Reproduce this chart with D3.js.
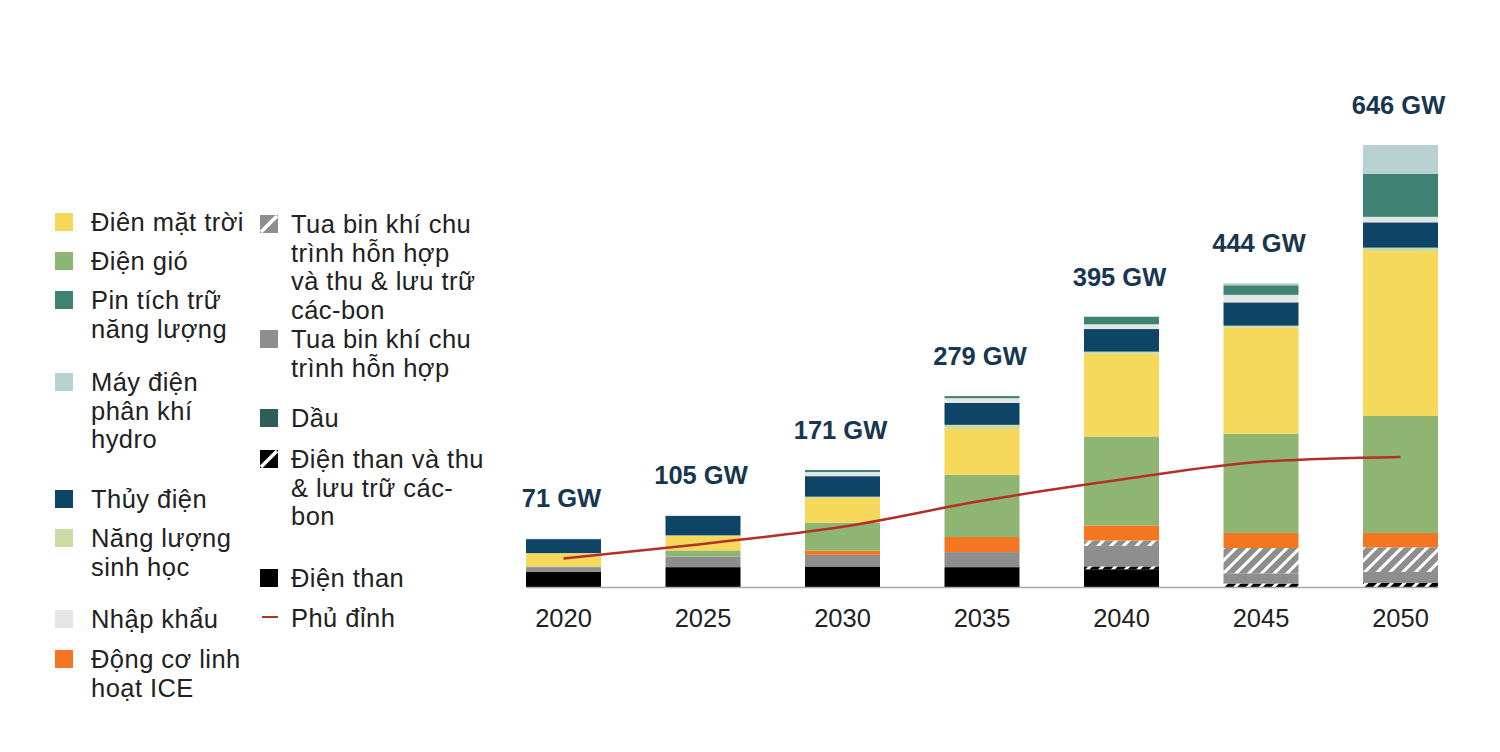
<!DOCTYPE html>
<html>
<head>
<meta charset="utf-8">
<script src="https://cdn.jsdelivr.net/npm/d3@7"></script>
<style>
  html, body { margin: 0; padding: 0; background: #fff; }
  svg { display: block; }
  text { font-family: "Liberation Sans", Arial, Helvetica, sans-serif; }
</style>
</head>
<body>
<svg id="chart" width="1500" height="752"></svg>
<script>
// ---------- DATA ----------
const years = ["2020", "2025", "2030", "2035", "2040", "2045", "2050"];
const totalLabels = ["71 GW", "105 GW", "171 GW", "279 GW", "395 GW", "444 GW", "646 GW"];

// stack series, bottom to top (GW)
const coal      = [22, 29, 30, 29, 26,   0,   0];
const coalCCS   = [ 0,  0,  0,  0,  4,   5,   6];
const gas       = [ 7, 15.5, 17, 22, 30, 15,  16];
const gasCCS    = [ 0,  0,  0,  0,  8,  37,  36];
const oil       = [ 0,  0,  0,  0,  0,   0,   0];
const ice       = [ 0,  0,  6, 22, 22,  22,  21];
const wind      = [ 1,  9, 41, 91, 130, 145, 171];
const solar     = [19, 21, 36, 67, 121, 155, 241];
const bio       = [0.5, 1,  2,  6,  3,   3,   5];
const hydro     = [20.5, 28.5, 30, 32, 33, 34, 37];
const imports   = [ 1,  1,  6,  7,  7,  11,   8];
const battery   = [ 0,  0,  3,  3, 11,  14,  63];
const hydrogen  = [ 0,  0,  0,  0,  0,   3,  42];

// peak load line (GW)
const peak = [41.5, 63, 88, 126, 157, 183, 190];

const seriesKeys = ["coal","coalCCS","gas","gasCCS","oil","ice","wind","solar","bio","hydro","imports","battery","hydrogen"];
const seriesData = {coal, coalCCS, gas, gasCCS, oil, ice, wind, solar, bio, hydro, imports, battery, hydrogen};

const colors = {
  coal: "#000000",
  coalCCS: "url(#hatchBlack)",
  gas: "#8e8e8e",
  gasCCS: "url(#hatchGray)",
  oil: "#2f5e58",
  ice: "#f47621",
  wind: "#8fb573",
  solar: "#f6d95b",
  bio: "#c9dca3",
  hydro: "#0e4566",
  imports: "#e4e6e6",
  battery: "#3f8172",
  hydrogen: "#b8d2d1"
};

// legend: [key, lines]
const legendCol1 = [
  ["solar", ["Điên mặt trời"]],
  ["wind", ["Điện gió"]],
  ["battery", ["Pin tích trữ", "năng lượng"]],
  ["hydrogen", ["Máy điện", "phân khí", "hydro"]],
  ["hydro", ["Thủy điện"]],
  ["bio", ["Năng lượng", "sinh học"]],
  ["imports", ["Nhập khẩu"]],
  ["ice", ["Động cơ linh", "hoạt ICE"]]
];
const legendCol1Baselines = [231, 270, 309, 391, 508, 547, 628, 668];
const legendCol2 = [
  ["gasCCS", ["Tua bin khí chu", "trình hỗn hợp", "và thu & lưu trữ", "các-bon"]],
  ["gas", ["Tua bin khí chu", "trình hỗn hợp"]],
  ["oil", ["Dầu"]],
  ["coalCCS", ["Điện than và thu", "& lưu trữ các-", "bon"]],
  ["coal", ["Điện than"]],
  ["peak", ["Phủ đỉnh"]]
];
const legendCol2Baselines = [233, 348, 427, 468, 587, 627];

// ---------- CHART ----------
const svg = d3.select("#chart");
const defs = svg.append("defs");

function hatch(id, base) {
  const p = defs.append("pattern")
    .attr("id", id)
    .attr("patternUnits", "userSpaceOnUse")
    .attr("width", 9).attr("height", 9)
    .attr("patternTransform", "rotate(45)");
  p.append("rect").attr("width", 9).attr("height", 9).attr("fill", base);
  p.append("rect").attr("x", 0).attr("width", 3).attr("height", 9).attr("fill", "#ffffff");
}
hatch("hatchGray", "#8e8e8e");
hatch("hatchBlack", "#000000");

const x = d3.scaleBand().domain(years).range([526, 1438]).paddingInner(0.4624).paddingOuter(0);
const y = d3.scaleLinear().domain([0, 646]).range([587, 145]);

const table = years.map((yr, i) => {
  const row = {year: yr};
  seriesKeys.forEach(k => row[k] = seriesData[k][i]);
  return row;
});
const stacked = d3.stack().keys(seriesKeys)(table);

svg.append("g").selectAll("g")
  .data(stacked)
  .join("g")
  .attr("fill", d => colors[d.key])
  .selectAll("rect")
  .data(d => d)
  .join("rect")
  .attr("x", d => x(d.data.year))
  .attr("width", x.bandwidth())
  .attr("y", d => y(d[1]))
  .attr("height", d => Math.max(0, y(d[0]) - y(d[1])));

// x axis
const xAxis = svg.append("g")
  .attr("transform", `translate(0,${y(0)})`)
  .call(d3.axisBottom(x).tickSize(0).tickPadding(22));
xAxis.select(".domain").attr("stroke", "#a8a8a8").attr("stroke-width", 1.5);
xAxis.selectAll("text")
  .attr("font-size", 25.5)
  .attr("fill", "#222")
  .style("font-family", "'Liberation Sans', Arial, sans-serif");

// peak line
const line = d3.line()
  .x((d, i) => x(years[i]) + x.bandwidth() / 2)
  .y(d => y(d))
  .curve(d3.curveMonotoneX);
svg.append("path")
  .datum(peak)
  .attr("d", line)
  .attr("fill", "none")
  .attr("stroke", "#b3302a")
  .attr("stroke-width", 2.5);

// totals
const totals = years.map((yr, i) => seriesKeys.reduce((s, k) => s + seriesData[k][i], 0));
svg.append("g").selectAll("text")
  .data(years)
  .join("text")
  .attr("x", (d) => x(d) + x.bandwidth() / 2 - 2)
  .attr("y", (d, i) => y(totals[i]) - 31)
  .attr("text-anchor", "middle")
  .attr("font-size", 25.5)
  .attr("font-weight", "bold")
  .attr("fill", "#17364f")
  .text((d, i) => totalLabels[i]);

// legend
function drawLegend(items, baselines, sqX, txtX) {
  const g = svg.append("g");
  items.forEach(([key, lines], i) => {
    const b = baselines[i];
    if (key === "peak") {
      g.append("line").attr("x1", sqX + 2).attr("x2", sqX + 18)
        .attr("y1", b - 10).attr("y2", b - 10)
        .attr("stroke", "#b3302a").attr("stroke-width", 2);
    } else if (key === "gasCCS" || key === "coalCCS") {
      const base = key === "gasCCS" ? "#8e8e8e" : "#000";
      g.append("rect").attr("x", sqX).attr("y", b - 18).attr("width", 18).attr("height", 18).attr("fill", base);
      g.append("line").attr("x1", sqX + 1).attr("y1", b - 1).attr("x2", sqX + 17).attr("y2", b - 17)
        .attr("stroke", "#fff").attr("stroke-width", 3.5);
    } else {
      g.append("rect").attr("x", sqX).attr("y", b - 18).attr("width", 18).attr("height", 18).attr("fill", colors[key]);
    }
    const t = g.append("text").attr("x", txtX).attr("y", b)
      .attr("font-size", 25.5).attr("letter-spacing", 0.45).attr("fill", "#222");
    lines.forEach((ln, j) => {
      t.append("tspan").attr("x", txtX).attr("y", b + j * 28.6).text(ln);
    });
  });
}
drawLegend(legendCol1, legendCol1Baselines, 55, 91);
drawLegend(legendCol2, legendCol2Baselines, 260, 291);
</script>
</body>
</html>
